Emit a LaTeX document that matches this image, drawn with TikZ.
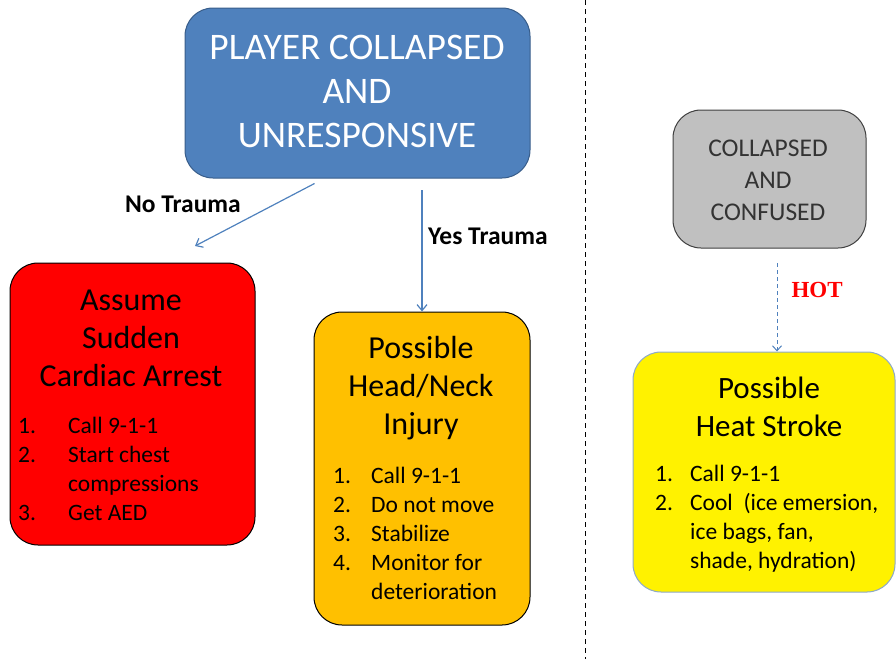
\documentclass[tikz,border=0pt]{standalone}
\usepackage{fontspec}
\setmainfont{Carlito}
\newfontfamily\hotfont{Liberation Serif}
\usetikzlibrary{arrows.meta,positioning}

\definecolor{ppblue}{HTML}{4F81BD}
\definecolor{ppblueline}{HTML}{385D8A}
\definecolor{pporange}{HTML}{FFC000}
\definecolor{ppgray}{HTML}{C0C0C0}
\definecolor{ppyellowline}{HTML}{8EA9C8}

\newcommand\stepno[2][38pt]{\makebox[#1][l]{#2}}

\tikzset{
  box/.style={draw, rounded corners=28pt, line width=1pt, inner sep=0pt},
  title/.style={align=center, inner sep=0pt},
  steps/.style={align=left, inner sep=0pt, anchor=west,
                font=\fontsize{23.5}{29}\selectfont},
  branch/.style={draw=ppblue, line width=1.2pt, -{Straight Barb[length=6pt,width=10pt]}},
  tag/.style={font=\fontsize{25.5}{28}\selectfont\bfseries, inner sep=0pt}
}

\begin{document}
\begin{tikzpicture}[x=1pt,y=-1pt]
\useasboundingbox (0,0) rectangle (896,659);

% left side: collapsed and unresponsive
\node[box, draw=ppblueline, fill=ppblue, minimum width=345pt, minimum height=170pt]
  (player) at (357.5,93) {};
\node[title, text=white, font=\fontsize{37.5}{44}\selectfont] (playertxt) at (357,91)
  {PLAYER COLLAPSED\\AND\\UNRESPONSIVE};

\node[box, fill=red, minimum width=245pt, minimum height=282pt] (arrest) at (132.5,404) {};
\node[title, font=\fontsize{32}{38}\selectfont] (arresttxt) at (131,338)
  {Assume\\Sudden\\Cardiac Arrest};
\node[steps] (arreststeps) at (18,469)
  {\stepno[50pt]{1.}Call 9-1-1\\ \stepno[50pt]{2.}Start chest\\ \stepno[50pt]{}compressions\\ \stepno[50pt]{3.}Get AED};

\node[box, fill=pporange, minimum width=216pt, minimum height=313pt] (neck) at (422,468.5) {};
\node[title, font=\fontsize{32}{38}\selectfont] (necktxt) at (421,388)
  {Possible\\Head/Neck\\Injury};
\node[steps] (necksteps) at (333,533)
  {\stepno{1.}Call 9-1-1\\ \stepno{2.}Do not move\\ \stepno{3.}Stabilize\\ \stepno{4.}Monitor for\\ \stepno{}deterioration};

\draw[branch] (player.south) ++(-43,5) coordinate (notrauma) -- (195,246) coordinate (arresttop);
\node[tag, anchor=east] (notag) at (241,204) {No Trauma};
\draw[branch] (422,190) coordinate (yestrauma) -- (neck.north);
\node[tag, anchor=west] (yestag) at (428,236) {Yes Trauma};

% divider
\draw[dashed, dash pattern=on 5pt off 4pt, line width=1pt] (585,0) coordinate (divtop) -- (585,659) coordinate (divbot);

% right side: collapsed and confused
\node[box, draw=black!75, fill=ppgray, minimum width=193pt, minimum height=138pt]
  (confused) at (769.5,179) {};
\node[title, text=black!80, font=\fontsize{25.5}{32}\selectfont] (confusedtxt) at (768,180)
  {COLLAPSED\\AND\\CONFUSED};

\node[box, draw=ppyellowline, fill=yellow, minimum width=262pt, minimum height=240pt]
  (heat) at (764,472) {};
\node[title, font=\fontsize{31}{38}\selectfont] (heattxt) at (769,407)
  {Possible\\Heat Stroke};
\node[steps] (heatsteps) at (655,519)
  {\stepno[35pt]{1.}Call 9-1-1\\ \stepno[35pt]{2.}Cool~ (ice emersion,\\ \stepno[35pt]{}ice bags, fan,\\ \stepno[35pt]{}shade, hydration)};

\draw[branch, dashed, dash pattern=on 4pt off 3pt, line width=1pt,
      -{Straight Barb[length=5pt,width=9pt]}] (777,263) coordinate (hotstart) -- (heat.north -| hotstart) ;
\node[anchor=west, text=red, font=\hotfont\fontsize{23}{26}\selectfont\bfseries] (hottag) at (788,290) {HOT};
\end{tikzpicture}
\end{document}
